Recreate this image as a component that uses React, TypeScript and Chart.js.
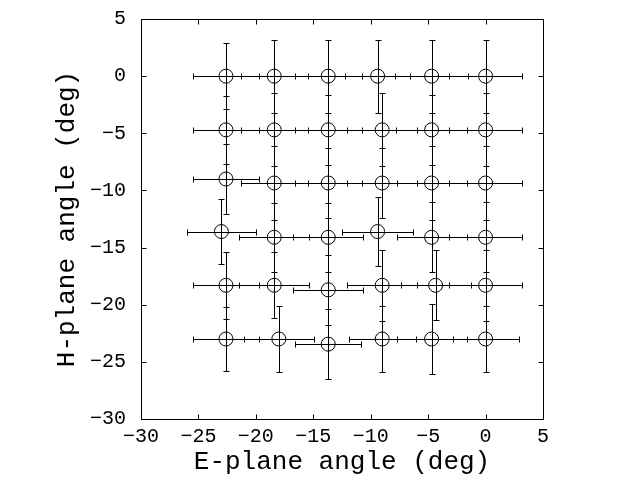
import React, { useEffect, useRef } from "react";
import { Chart, registerables } from "chart.js";

Chart.register(...registerables);

// E-plane angle (deg), row by row (H ≈ 0, -5, -9, -14, -18, -23)
const ePlane = [
  -22.6, -18.4, -13.7, -9.4, -4.7, 0,
  -22.6, -18.4, -13.7, -9.0, -4.7, 0,
  -22.6, -18.4, -13.7, -9.0, -4.7, 0,
  -23.0, -18.4, -13.7, -9.4, -4.7, 0,
  -22.6, -18.4, -13.7, -9.0, -4.35, 0,
  -22.6, -18.0, -13.7, -9.0, -4.7, 0,
];
// H-plane angle (deg)
const hPlane = [
  0, 0, 0, 0, 0, 0,
  -4.7, -4.7, -4.7, -4.7, -4.7, -4.7,
  -9.0, -9.35, -9.35, -9.35, -9.35, -9.35,
  -13.6, -14.1, -14.1, -13.6, -14.1, -14.1,
  -18.3, -18.3, -18.7, -18.3, -18.3, -18.3,
  -23.0, -23.0, -23.45, -23.0, -23.0, -23.0,
];
// E-plane error (deg)
const ePlaneErr = [
  2.87, 2.9, 2.93, 2.85, 3.2, 3.2,
  2.87, 2.9, 2.93, 3.05, 3.1, 3.2,
  2.87, 2.9, 2.93, 3.05, 3.05, 3.2,
  3.02, 3.05, 3.05, 3.07, 3.05, 3.2,
  2.87, 3.05, 3.05, 3.05, 3.05, 3.2,
  2.87, 3.07, 2.85, 2.9, 3.05, 2.87,
];
// H-plane error (deg)
const hPlaneErr = [
  2.9, 3.2, 3.2, 3.2, 3.2, 3.2,
  3.0, 3.2, 3.05, 3.2, 3.05, 3.2,
  3.05, 3.2, 3.05, 3.1, 3.2, 3.2,
  2.85, 3.0, 3.0, 3.0, 3.05, 3.05,
  2.95, 2.9, 3.05, 3.1, 3.05, 3.1,
  2.8, 2.85, 3.05, 2.85, 3.1, 2.85,
];

const axisMin = -30;
const axisMax = 5;
const axisStep = 5;
const xTitle = "E-plane angle (deg)";
const yTitle = "H-plane angle (deg)";

const FONT = "'Liberation Mono', 'DejaVu Sans Mono', monospace";

const crisp = (v: number) => Math.round(v) + 0.5;

const errorBarPlugin = {
  id: "errorBars",
  afterDatasetsDraw(chart: any) {
    const { ctx, scales } = chart;
    const xs = scales.x;
    const ys = scales.y;
    const cap = 3;
    ctx.save();
    ctx.strokeStyle = "#000";
    ctx.lineWidth = 1;
    ctx.beginPath();
    for (let i = 0; i < ePlane.length; i++) {
      const px = crisp(xs.getPixelForValue(ePlane[i]));
      const py = crisp(ys.getPixelForValue(hPlane[i]));
      const xl = crisp(xs.getPixelForValue(ePlane[i] - ePlaneErr[i]));
      const xr = crisp(xs.getPixelForValue(ePlane[i] + ePlaneErr[i]));
      const yt = crisp(ys.getPixelForValue(hPlane[i] + hPlaneErr[i]));
      const yb = crisp(ys.getPixelForValue(hPlane[i] - hPlaneErr[i]));
      ctx.moveTo(xl, py);
      ctx.lineTo(xr, py);
      ctx.moveTo(xl, py - cap);
      ctx.lineTo(xl, py + cap);
      ctx.moveTo(xr, py - cap);
      ctx.lineTo(xr, py + cap);
      ctx.moveTo(px, yt);
      ctx.lineTo(px, yb);
      ctx.moveTo(px - cap, yt);
      ctx.lineTo(px + cap, yt);
      ctx.moveTo(px - cap, yb);
      ctx.lineTo(px + cap, yb);
    }
    ctx.stroke();
    ctx.restore();
  },
};

const framePlugin = {
  id: "frame",
  afterDraw(chart: any) {
    const { ctx, chartArea, scales } = chart;
    const { left, right, top, bottom } = chartArea;
    const L = crisp(left), R = crisp(right), T = crisp(top), B = crisp(bottom);
    const tl = 5;
    ctx.save();
    ctx.strokeStyle = "#000";
    ctx.lineWidth = 1;
    ctx.beginPath();
    ctx.rect(L, T, R - L, B - T);
    for (const t of scales.x.ticks) {
      const x = crisp(scales.x.getPixelForValue(t.value));
      ctx.moveTo(x, B);
      ctx.lineTo(x, B - tl);
      ctx.moveTo(x, T);
      ctx.lineTo(x, T + tl);
    }
    for (const t of scales.y.ticks) {
      const y = crisp(scales.y.getPixelForValue(t.value));
      ctx.moveTo(L, y);
      ctx.lineTo(L + tl, y);
      ctx.moveTo(R, y);
      ctx.lineTo(R - tl, y);
    }
    ctx.stroke();
    ctx.restore();
  },
};

const fmt = (v: any) => String(v).replace("-", "\u2212");

export default function App() {
  const ref = useRef<HTMLCanvasElement | null>(null);
  useEffect(() => {
    if (!ref.current) return;
    const points = ePlane.map((x, i) => ({ x, y: hPlane[i] }));
    const chart = new Chart(ref.current, {
      type: "scatter",
      data: {
        datasets: [
          {
            data: points,
            pointStyle: "circle",
            pointRadius: 7,
            pointHoverRadius: 7,
            borderColor: "#000",
            backgroundColor: "rgba(0,0,0,0)",
            borderWidth: 1,
            showLine: false,
          },
        ],
      },
      options: {
        animation: false,
        responsive: false,
        maintainAspectRatio: false,
        events: [],
        layout: { padding: { left: 0, top: 19, right: 97, bottom: 0 } },
        plugins: { legend: { display: false }, tooltip: { enabled: false } },
        scales: {
          x: {
            type: "linear",
            min: axisMin,
            max: axisMax,
            ticks: {
              stepSize: axisStep,
              color: "#000",
              font: { family: FONT, size: 20 },
              padding: 6,
              maxRotation: 0,
              callback: fmt,
            },
            grid: { drawOnChartArea: false, drawTicks: false },
            border: { display: false },
            title: {
              display: true,
              text: xTitle,
              color: "#000",
              font: { family: FONT, size: 26 },
              padding: { top: 0, bottom: 2 },
            },
            afterFit(scale: any) {
              scale.height = 61;
              scale.paddingLeft = 0;
              scale.paddingRight = 0;
            },
          },
          y: {
            type: "linear",
            min: axisMin,
            max: axisMax,
            ticks: {
              stepSize: axisStep,
              color: "#000",
              font: { family: FONT, size: 20 },
              padding: 15,
              callback: fmt,
            },
            grid: { drawOnChartArea: false, drawTicks: false },
            border: { display: false },
            title: {
              display: true,
              text: yTitle,
              color: "#000",
              font: { family: FONT, size: 26 },
              padding: { top: 52, bottom: 0 },
            },
            afterFit(scale: any) {
              scale.width = 141;
              scale.paddingTop = 0;
              scale.paddingBottom = 0;
            },
          },
        },
      },
      plugins: [errorBarPlugin, framePlugin],
    });
    return () => chart.destroy();
  }, []);
  return (
    <div style={{ position: "fixed", left: 0, top: 0, width: 640, height: 480, background: "#fff" }}>
      <canvas ref={ref} width={640} height={480} style={{ width: 640, height: 480, display: "block" }} />
    </div>
  );
}
